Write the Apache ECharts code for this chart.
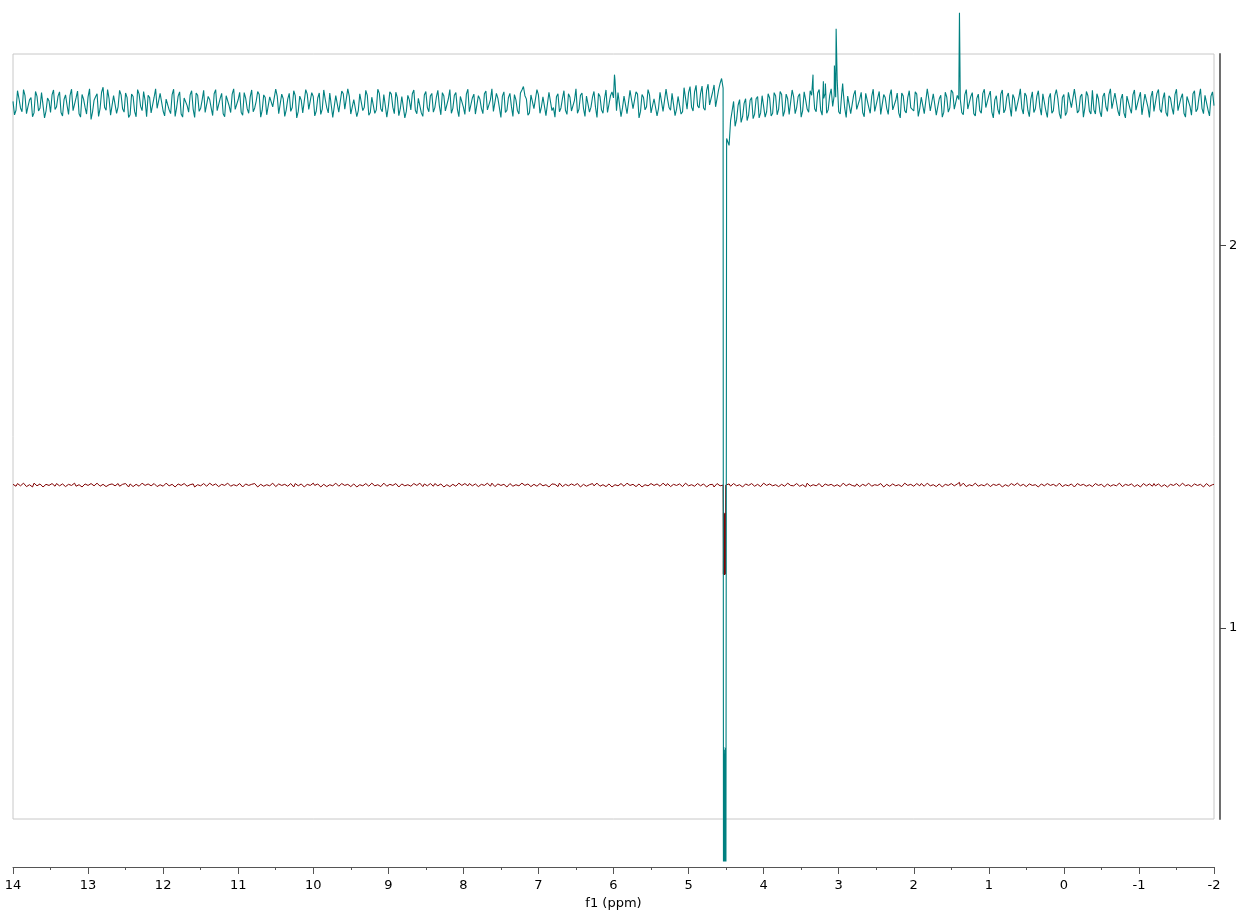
<!DOCTYPE html>
<html>
<head>
    <meta charset="UTF-8"/>
    <script type="text/javascript" src="https://cdn.jsdelivr.net/npm/echarts@6.0.0/dist/echarts.min.js"></script>
    <title>f1 spectrum</title>
    <style>
        body{margin:0;background:#fff;}
        #chart{width:1243px;height:916px;}
    </style>
</head>
<body>
<div id="chart"></div>
</body>
<script>
    // spectrum sampling: ppm of first point and step
    var ppmStart = 14;
    var ppmStep = -0.04;

    // baselines of the two stacked traces (right axis units)
    var tealBase = 2.371;
    var redBase = 1.373;

    // teal trace, offsets from baseline in 1/1000 units, one per grid point
    var tealGrid = [
        5,-18,12,-22,20,-8,15,-25,18,-12,24,-20,6,22,-16,19,-24,10,-5,21,
        -19,14,-27,23,-10,17,-42,8,25,-14,42,-18,12,-26,19,-9,22,-23,15,-30,
        18,-35,24,-19,7,21,-25,16,-13,26,-20,11,-17,23,-34,19,-28,14,-6,22,
        -15,27,-21,9,-24,18,-12,25,-19,13,-27,20,-7,24,-16,10,-23,28,-14,17,
        -22,6,23,-18,15,-26,21,-9,19,-24,12,-17,26,-11,20,-21,8,-29,24,-13,
        18,-20,27,-15,10,-25,22,-8,16,-23,25,-12,19,-26,14,-19,23,-10,21,-24,
        11,-17,26,-22,18,-9,24,-27,15,-14,20,-21,9,25,-18,13,-25,22,-11,19,
        -23,16,-7,28,-20,12,-26,21,-15,18,-10,24,-22,14,-28,20,-13,25,-17,9,
        -21,26,-12,19,-24,15,-8,23,-19,27,44,11,-25,20,-16,22,-9,18,-27,24,
        -11,17,-22,13,-18,25,-20,8,-26,21,-13,19,-23,16,-10,26,-17,12,-24,20,
        14,-19,23,-12,18,-25,10,-16,24,-21,15,-9,22,-27,17,-13,26,-20,11,-18,
        24,-15,19,-22,13,28,-10,30,-6,26,-12,33,-4,29,-9,35,65,-1982,-88,-45,
        5,-42,10,-35,12,-30,15,-28,18,-25,20,-22,14,-26,19,-15,23,-20,12,-24,
        17,-11,25,-19,9,-23,21,-14,27,-18,13,-26,20,-8,16,-22,24,-12,19,-27,
        22,-16,11,-24,26,-10,18,-21,14,-29,23,-13,20,-17,8,-25,27,-19,15,-11,
        -20,24,-14,19,-26,12,-18,25,-9,21,-23,16,-12,28,-20,10,-24,22,-15,18,
        -27,13,-19,26,-11,20,-22,9,-16,24,-25,17,-8,23,-21,15,-13,27,-18,11,
        -24,19,-10,25,-20,14,-26,21,12,-40,23,-23,28,-15,9,-19,24,-11,20,-28,
        -17,25,-22,18,-9,23,-14,27,-20,11,-25,19,-13,22,-18,15,-30,24,-10,17,
        -21,26,-16,12,-24,20,-11,23,-19,14,-26,18,-8,25,-22,16,-13,21,-17,19,
        -6
    ];
    // teal trace, points half-way between grid points
    var tealMid = [
        -30,33,-12,36,-27,9,-35,31,-20,28,-38,14,-24,35,-9,30,-33,22,-29,37,
        -16,32,-36,11,-28,38,-22,17,-34,29,-10,36,-31,20,-26,34,-14,27,-37,24,
        -21,36,-8,31,-35,15,-29,38,-18,25,-33,12,-27,37,-11,30,-36,19,-23,33,
        -37,21,-13,34,-28,10,-32,36,-19,26,-35,16,-24,38,-15,29,-31,13,-26,35,
        -12,31,-36,22,-30,17,-9,37,-27,24,-34,11,-21,33,-38,19,-25,36,-16,28,
        -33,14,-29,35,-11,27,-37,20,-23,32,-15,38,-28,10,-35,25,-19,34,-31,16,
        -26,37,-14,23,-36,30,-10,29,-32,18,-38,21,-17,35,-27,12,-34,31,-22,26,
        -11,34,-30,19,-25,36,-13,28,-35,15,-29,37,-20,24,-33,11,-27,32,-16,38,
        -24,13,-37,30,-18,26,-34,9,-28,35,20,-31,22,-14,36,-26,17,-32,29,-19,
        -36,25,-12,33,-29,16,-23,38,-15,27,-34,21,-10,31,-37,18,-26,35,-20,30,
        60,28,-35,19,-27,34,-14,30,-38,23,-17,36,-25,12,-33,29,-21,37,-11,26,
        -32,18,-28,41,-15,44,-20,47,-12,45,-18,50,-8,48,-14,52,40,-1982,-110,-20,
        -60,-5,-50,0,-45,8,-40,12,-38,20,-36,25,-33,28,-30,31,-34,24,-29,35,
        -27,18,-36,30,-15,33,40,-22,36,-31,26,-17,38,20,60,-28,32,-37,21,-24,
        34,-13,29,-35,22,-26,37,-18,31,-32,15,-29,36,-21,27,-38,19,-25,33,-10,
        30,-34,16,-27,38,-20,25,-31,12,-36,29,-23,35,-15,21,10,-30,36,-17,28,
        -33,24,-26,37,-12,32,-38,20,-29,35,-16,27,-34,13,-22,38,-28,19,-35,30,
        -14,33,-31,22,-37,26,-19,36,-27,15,-32,29,-11,37,-25,18,-36,31,-20,34,
        -28,12,-35,27,-21,38,-16,30,-33,24,-38,17,-26,35,-13,29,-30,21,-37,32,
        -18,36,-24,28,-34,14,-29,37,-22,25,-36,19,-31,33,-15,38,-27,23,-33,30
    ];
    // teal peaks and the solvent dip between grid points
    var tealPeakPpm = [5.987, 4.535, 4.531, 4.527, 4.523, 4.516, 4.512, 4.507, 4.502, 4.497, 4.493,
        3.342, 3.204, 3.177, 3.057, 3.034, 3.028, 2.947, 1.391];
    var tealPeakVal = [75, -1982, -1683, -1982, -1690, -1700, -1982, -1685, -1982, -1982, -92,
        75, 58, 52, 99, 195, 198, 52, 237];

    // red trace, offsets from baseline in 1/1000 units
    var redGrid = [
        2,-3,4,-1,3,-4,1,5,-2,3,-5,2,-1,4,-3,2,-4,3,0,-2,
        4,-3,1,-5,3,-1,4,-2,5,-3,2,-4,1,3,-2,4,-5,2,-1,3,
        -4,2,-3,5,-1,3,-2,4,-4,1,-3,5,-2,2,-5,3,-1,4,-3,1,
        3,-2,4,-4,2,-1,5,-3,1,-5,4,-2,3,-1,2,-4,5,-3,1,-2,
        -1,4,-3,2,-5,3,-2,4,-1,5,-4,2,-3,1,4,-2,3,-5,2,-1,
        5,-2,3,-4,1,-3,4,-1,2,-5,3,-2,5,-4,1,-1,4,-3,2,-2,
        3,-5,2,-1,4,-3,1,-2,5,-4,3,-1,2,-3,4,-5,1,3,-2,4,
        -3,1,-4,5,-2,3,-1,4,-5,2,-3,1,4,-2,3,-4,2,-1,5,-3,
        2,-4,3,-2,1,-5,4,-1,3,-3,5,-2,1,-4,2,-1,3,-5,4,-2,
        1,-3,5,-4,2,-2,3,-1,4,-5,2,-3,1,4,-2,5,-4,3,-1,2,
        -5,3,-2,4,-1,2,-4,5,-3,1,-2,3,-5,4,-1,2,-3,1,4,-4,
        2,-1,3,-4,5,-2,1,-3,4,-2,3,-5,1,2,-4,3,-1,-235,2,-3,
        4,-2,1,-5,3,-1,4,-3,2,-4,5,-1,3,-2,1,-4,2,-3,5,-1,
        -2,4,-3,1,-5,2,-1,3,-4,5,-2,1,-3,4,-1,2,-5,3,-2,4,
        -1,3,-4,2,-2,5,-3,1,-1,4,-5,2,-3,3,-2,1,-4,5,-1,2,
        -3,4,-2,1,-4,3,-1,5,-5,2,-2,4,-3,1,-1,3,-4,2,-2,5,
        -1,2,-5,3,-3,4,-2,1,-4,5,-1,2,-3,4,-2,3,-5,1,-1,4,
        -4,2,-1,3,-2,5,-3,1,-5,4,-1,2,-3,3,-4,1,-2,5,-1,3,
        -3,4,-5,2,-1,3,-2,4,-4,1,-3,5,-2,2,-1,4,-5,3,-2,1,
        4,-3,2,-1,5,-4,1,-2,3,-5,2,-1,4,-3,1,-2,5,-4,3,-1,
        2
    ];
    var redMid = [
        -3,4,-2,5,-4,1,-5,3,-1,4,-3,2,-5,1,4,-2,3,-4,2,-1,
        5,-2,3,-4,1,-3,4,-5,2,-1,3,-4,5,-2,1,-3,2,4,-5,3,
        -2,5,-4,1,-3,4,-1,2,-5,3,-2,4,-1,5,-3,1,-4,2,-2,3,
        -5,1,-2,4,-3,5,-1,3,-4,2,-1,5,-3,1,-2,4,-5,3,-1,2,
        4,-5,2,-3,1,-2,5,-4,3,-1,2,-3,4,-5,1,-2,3,-1,5,-4,
        -1,3,-5,2,-4,1,-2,5,-3,4,-1,2,-4,3,-5,1,-2,4,-3,5,
        -2,1,-4,5,-3,2,-1,4,-5,3,-2,1,-3,4,-1,5,-4,2,-3,1,
        4,-2,3,-5,1,-4,2,-3,5,-1,4,-2,1,-5,3,-3,2,-4,1,5,
        -4,3,-1,2,-5,4,-3,1,-2,5,-1,3,-4,2,-3,4,-2,1,-5,3,
        2,-4,1,-3,5,-2,4,-5,1,-1,3,-4,2,-2,5,-3,1,-4,3,-5,
        1,-2,4,-3,5,-1,2,-4,3,-5,1,-2,4,-1,3,-3,5,-2,1,-4,
        3,-5,2,-1,4,-3,1,-2,5,-4,2,-1,3,-5,4,-2,0,0,3,-2,
        1,-4,5,-2,3,-1,2,-5,4,-3,1,-2,3,-4,5,-1,2,-3,4,-5,
        3,-1,2,-4,5,-3,1,-2,4,-5,3,-1,2,-3,1,-4,5,-2,3,-1,
        -3,5,-1,2,-4,3,-5,1,-2,4,-3,2,-1,5,-4,3,-2,1,-5,4,
        2,-1,4,-3,5,-2,1,-4,3,-5,2,-1,4,-2,3,-3,5,-4,1,-2,
        5,-3,1,-2,4,-4,2,-1,3,-5,1,-3,4,-1,5,-2,2,-4,3,-1,
        1,-5,3,-2,4,-1,2,-3,5,-4,1,-2,3,-5,4,-1,2,-3,1,-4,
        4,-1,2,-5,3,-3,1,-2,5,-4,2,-1,3,-4,1,-5,4,-2,3,-3,
        -2,3,-4,1,-5,2,-1,4,-3,5,-2,1,-4,3,-1,2,-5,4,-3,1
    ];
    var redPeakPpm = [4.538, 4.536, 4.532, 4.528, 4.524, 4.516, 4.512, 4.508, 4.505, 1.391];
    var redPeakVal = [-70, -233, -72, -235, -75, -230, -73, -233, 0, 7];

    var xTicks = [14, 13, 12, 11, 10, 9, 8, 7, 6, 5, 4, 3, 2, 1, 0, -1, -2];
    var yTicks = [1, 2];

    function buildTrace(base, grid, mid, peakPpm, peakVal){
        var pts = [];
        for (var i = 0; i < grid.length; i++) {
            pts.push([+(ppmStart + ppmStep * i).toFixed(3), base + grid[i] / 1000]);
        }
        for (var m = 0; m < mid.length; m++) {
            pts.push([+(ppmStart + ppmStep * (m + 0.5)).toFixed(3), base + mid[m] / 1000]);
        }
        for (var j = 0; j < peakPpm.length; j++) {
            pts.push([peakPpm[j], base + peakVal[j] / 1000]);
        }
        pts.sort(function(a, b){ return b[0] - a[0]; });
        return pts;
    }

    var chart = echarts.init(document.getElementById('chart'), null, {renderer: 'canvas'});
    var font = "'DejaVu Sans', Verdana, sans-serif";
    chart.setOption({
        animation: false,
        grid: {
            left: 13, right: 29, top: 54, bottom: 97,
            show: true, borderColor: '#c8c8c8', borderWidth: 1, backgroundColor: 'transparent'
        },
        xAxis: {
            type: 'value', min: -2, max: 14, interval: 1, inverse: true,
            position: 'bottom', offset: 48,
            name: 'f1 (ppm)', nameLocation: 'middle', nameGap: 28,
            nameTextStyle: {color: '#000', fontSize: 13, fontFamily: font},
            axisLine: {show: true, onZero: false, lineStyle: {color: '#555', width: 1}},
            axisTick: {show: true, length: 7, lineStyle: {color: '#555'}, customValues: xTicks},
            minorTick: {show: true, splitNumber: 2, length: 3, lineStyle: {color: '#555'}},
            axisLabel: {color: '#000', fontSize: 13, fontFamily: font, margin: 12, customValues: xTicks},
            splitLine: {show: false}
        },
        yAxis: {
            type: 'value', min: 0.5, max: 2.5, position: 'right', offset: 6,
            axisLine: {show: true, onZero: false, lineStyle: {color: '#6e6e6e', width: 2}},
            axisTick: {show: true, inside: false, length: 6, lineStyle: {color: '#444'}, customValues: yTicks},
            axisLabel: {color: '#000', fontSize: 13, fontFamily: font, margin: 9, customValues: yTicks},
            splitLine: {show: false}
        },
        series: [
            {
                type: 'line', showSymbol: false, clip: false, sampling: null,
                data: buildTrace(redBase, redGrid, redMid, redPeakPpm, redPeakVal),
                lineStyle: {color: '#800000', width: 1}
            },
            {
                type: 'line', showSymbol: false, clip: false, sampling: null,
                data: buildTrace(tealBase, tealGrid, tealMid, tealPeakPpm, tealPeakVal),
                lineStyle: {color: '#008080', width: 1.1}
            }
        ]
    });
</script>
</html>
